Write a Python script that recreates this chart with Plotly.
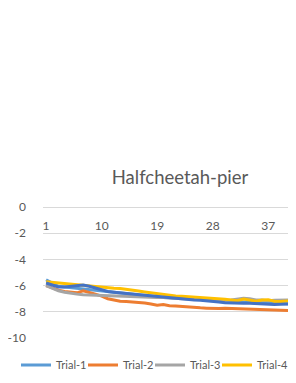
import plotly.graph_objects as go

title_text = "Halfcheetah-pier"
episodes = list(range(1, 43))
tick_labels = [1, 10, 19, 28, 37]
y_ticks = [0, -2, -4, -6, -8, -10]
y_tick_text = ["0", "-2", "-4", "-6", "-8", "-10"]

trial_1 = [-5.55, -5.8, -6.05, -6.1, -6.15, -6.2, -6.3, -6.35, -6.4, -6.45,
           -6.5, -6.55, -6.6, -6.65, -6.7, -6.75, -6.78, -6.82, -6.85, -6.9,
           -6.92, -6.95, -6.98, -7.0, -7.05, -7.08, -7.1, -7.12, -7.15, -7.2,
           -7.22, -7.25, -7.27, -7.28, -7.3, -7.3, -7.32, -7.35, -7.35, -7.38,
           -7.4, -7.42]
trial_2 = [-6.0, -6.2, -6.35, -6.45, -6.5, -6.55, -6.4, -6.5, -6.65, -6.8,
           -7.0, -7.1, -7.2, -7.22, -7.25, -7.3, -7.33, -7.4, -7.5, -7.45,
           -7.54, -7.55, -7.6, -7.65, -7.67, -7.7, -7.72, -7.74, -7.74, -7.72,
           -7.74, -7.75, -7.78, -7.8, -7.8, -7.82, -7.85, -7.87, -7.88, -7.9,
           -7.92, -7.93]
trial_3 = [-6.0, -6.2, -6.4, -6.5, -6.6, -6.65, -6.7, -6.72, -6.72, -6.75,
           -6.77, -6.78, -6.8, -6.82, -6.83, -6.85, -6.85, -6.88, -6.9, -6.9,
           -6.95, -6.97, -7.0, -7.0, -7.02, -7.05, -7.08, -7.1, -7.12, -7.15,
           -7.1, -7.05, -6.97, -7.0, -7.1, -7.1, -7.15, -7.12, -7.1, -7.08,
           -7.08, -7.08]
trial_4 = [-5.7, -5.75, -5.8, -5.85, -5.9, -5.95, -5.98, -6.05, -6.1, -6.15,
           -6.2, -6.2, -6.22, -6.3, -6.38, -6.42, -6.48, -6.55, -6.6, -6.65,
           -6.72, -6.8, -6.82, -6.85, -6.88, -6.9, -6.92, -6.95, -7.0, -7.05,
           -7.1, -7.15, -7.03, -7.1, -7.2, -7.1, -7.08, -7.2, -7.22, -7.18,
           -7.15, -7.15]
trial_5 = [-5.8, -5.95, -6.1, -6.1, -6.05, -6.0, -5.95, -6.05, -6.2, -6.35,
           -6.45, -6.5, -6.55, -6.6, -6.65, -6.7, -6.75, -6.78, -6.8, -6.85,
           -6.9, -6.97, -7.0, -7.05, -7.1, -7.12, -7.15, -7.2, -7.25, -7.3,
           -7.33, -7.33, -7.35, -7.35, -7.38, -7.4, -7.42, -7.45, -7.42, -7.4,
           -7.4, -7.4]

series_names = ["Trial-1", "Trial-2", "Trial-3", "Trial-4", "Trial-5"]
series_values = [trial_1, trial_2, trial_3, trial_4, trial_5]
series_colors = ["#5B9BD5", "#ED7D31", "#A5A5A5", "#FFC000", "#4472C4"]

FONT = "Lato"
TXT = "#595959"

# The chart is wider than the visible window; its right part is cut off.
W, H = 440, 383
PX_PER_CAT = 6.17
X_MAX = 65
plot_left = 35
plot_top = 199
plot_bottom = 330
plot_w = (X_MAX - 0.5) * PX_PER_CAT
plot_h = plot_bottom - plot_top

fig = go.Figure()
for name, vals, col in zip(series_names, series_values, series_colors):
    fig.add_trace(go.Scatter(x=episodes, y=vals, mode="lines", name=name,
                             line=dict(color=col, width=3)))

fig.update_layout(
    width=W, height=H,
    margin=dict(l=plot_left, r=max(0, W - plot_left - plot_w), t=plot_top,
                b=H - plot_bottom),
    paper_bgcolor="white", plot_bgcolor="white",
    font=dict(family=FONT, color=TXT, size=12),
    title=dict(text=title_text, x=172 / W, xanchor="center", xref="container",
               y=1 - 170 / H, yanchor="middle", yref="container",
               font=dict(family=FONT, size=18.5, color=TXT)),
    legend=dict(orientation="h", x=-(plot_left - 8) / plot_w, xanchor="left",
                y=-(357 - plot_bottom) / plot_h, yanchor="middle",
                xref="paper", yref="paper",
                font=dict(family=FONT, size=11, color=TXT),
                itemwidth=30, entrywidth=22),
    xaxis=dict(range=[0.5, X_MAX], tickmode="array", tickvals=tick_labels,
               ticktext=[str(t) for t in tick_labels], showgrid=False,
               zeroline=False, showline=False, anchor="free", position=1,
               side="bottom", ticks="", ticklabelstandoff=10, automargin=False,
               tickfont=dict(family=FONT, size=12, color=TXT)),
    yaxis=dict(range=[-10, 0], tickmode="array", tickvals=y_ticks,
               ticktext=y_tick_text, automargin=False,
               showgrid=True, gridcolor="#D9D9D9", gridwidth=1,
               zeroline=True, zerolinecolor="#D9D9D9", zerolinewidth=1,
               showline=False, ticks="", ticklabelstandoff=16,
               tickfont=dict(family=FONT, size=12, color=TXT)),
)

fig.write_html("out.html")
